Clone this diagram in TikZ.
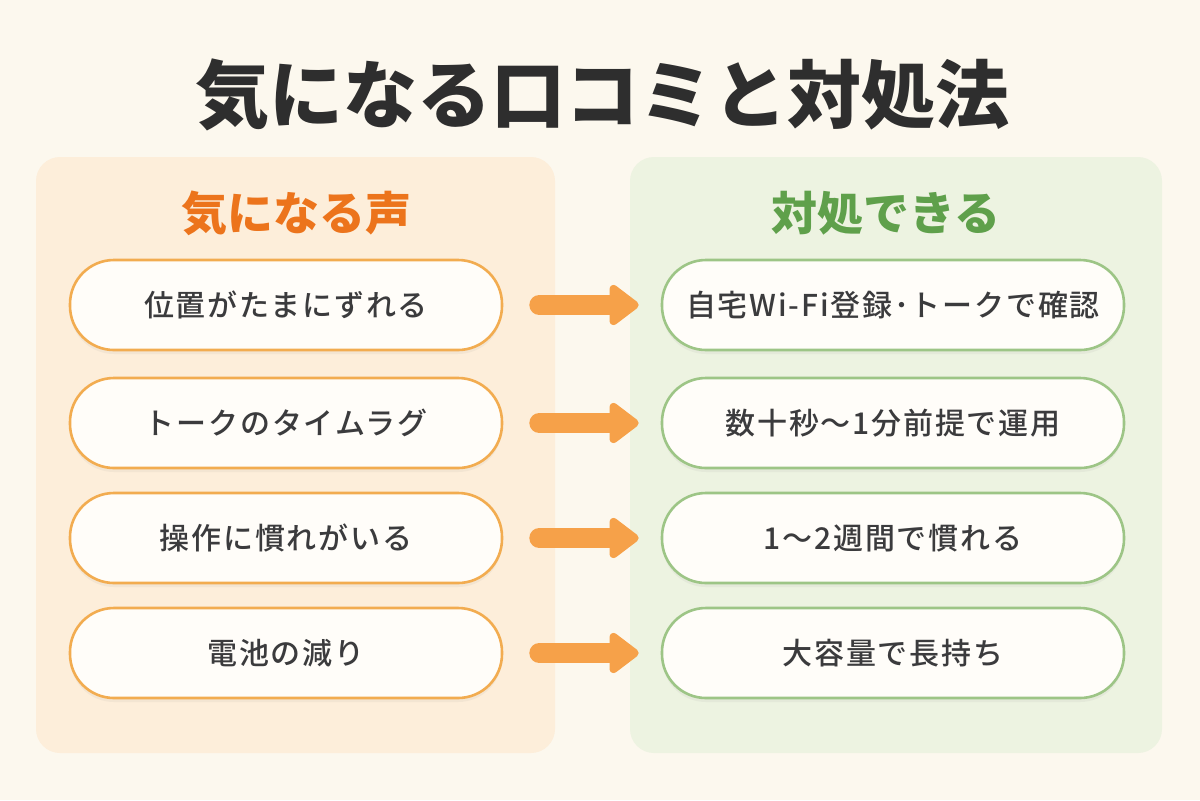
\documentclass[tikz,border=0pt]{standalone}
\usepackage{fontspec}
\newfontfamily\jp{Noto Sans CJK JP}
\newfontfamily\jpm[LetterSpace=6]{Noto Sans CJK JP Medium}
\usetikzlibrary{arrows.meta,shadows}
\definecolor{bgc}{HTML}{FCF8EE}
\definecolor{lpanel}{HTML}{FDEEDA}
\definecolor{rpanel}{HTML}{EDF3E1}
\definecolor{obord}{HTML}{F2AC50}
\definecolor{gbord}{HTML}{9DC586}
\definecolor{ohead}{HTML}{EC741C}
\definecolor{ghead}{HTML}{5FA04B}
\definecolor{arrc}{HTML}{F6A149}
\definecolor{txt}{HTML}{3B3B3D}
\definecolor{pillfill}{HTML}{FFFDF9}
\tikzset{
  pill/.style={rounded corners=22pt, minimum width=216pt, minimum height=45pt,
    fill=pillfill, line width=1.3pt, text=txt,
    font=\jpm\fontsize{15pt}{18pt}\selectfont,
    drop shadow={opacity=0.08, shadow xshift=0pt, shadow yshift=-2pt}},
  lpill/.style={pill, draw=obord},
  rpill/.style={pill, draw=gbord, minimum width=231pt},
  arr/.style={draw=arrc, line width=10pt, line cap=round,
    -{Triangle[length=16pt,width=23pt,round]}},
  heading/.style={font=\jp\bfseries\fontsize{23pt}{26pt}\selectfont},
}
\begin{document}
\begin{tikzpicture}[x=0.5pt,y=-0.5pt]
\fill[bgc] (0,0) rectangle (1200,800);
\useasboundingbox (0,0) rectangle (1200,800);
\node[font=\jp\bfseries\fontsize{37pt}{40pt}\selectfont, text=black!82] (title) at (602,95) {気になる口コミと対処法};
\fill[lpanel, rounded corners=12pt] (36,157) rectangle (555,753);
\fill[rpanel, rounded corners=12pt] (630,157) rectangle (1162,753);
\node[heading, text=ohead] (lh) at (296,213) {気になる声};
\node[heading, text=ghead] (rh) at (886,213) {対処できる};
\node[lpill] (l1) at (286,305) {位置がたまにずれる};
\node[lpill] (l2) at (286,423) {トークのタイムラグ};
\node[lpill] (l3) at (286,538) {操作に慣れがいる};
\node[lpill] (l4) at (286,653) {電池の減り};
\node[rpill] (r1) at (893,305) {自宅Wi-Fi登録･トークで確認};
\node[rpill] (r2) at (893,423) {数十秒～1分前提で運用};
\node[rpill] (r3) at (893,538) {1～2週間で慣れる};
\node[rpill] (r4) at (893,653) {大容量で長持ち};
\foreach \i in {1,2,3,4}{
  \draw[arr] ([xshift=18pt]l\i.east) -- ([xshift=-11pt]r\i.west);
}
\end{tikzpicture}
\end{document}
